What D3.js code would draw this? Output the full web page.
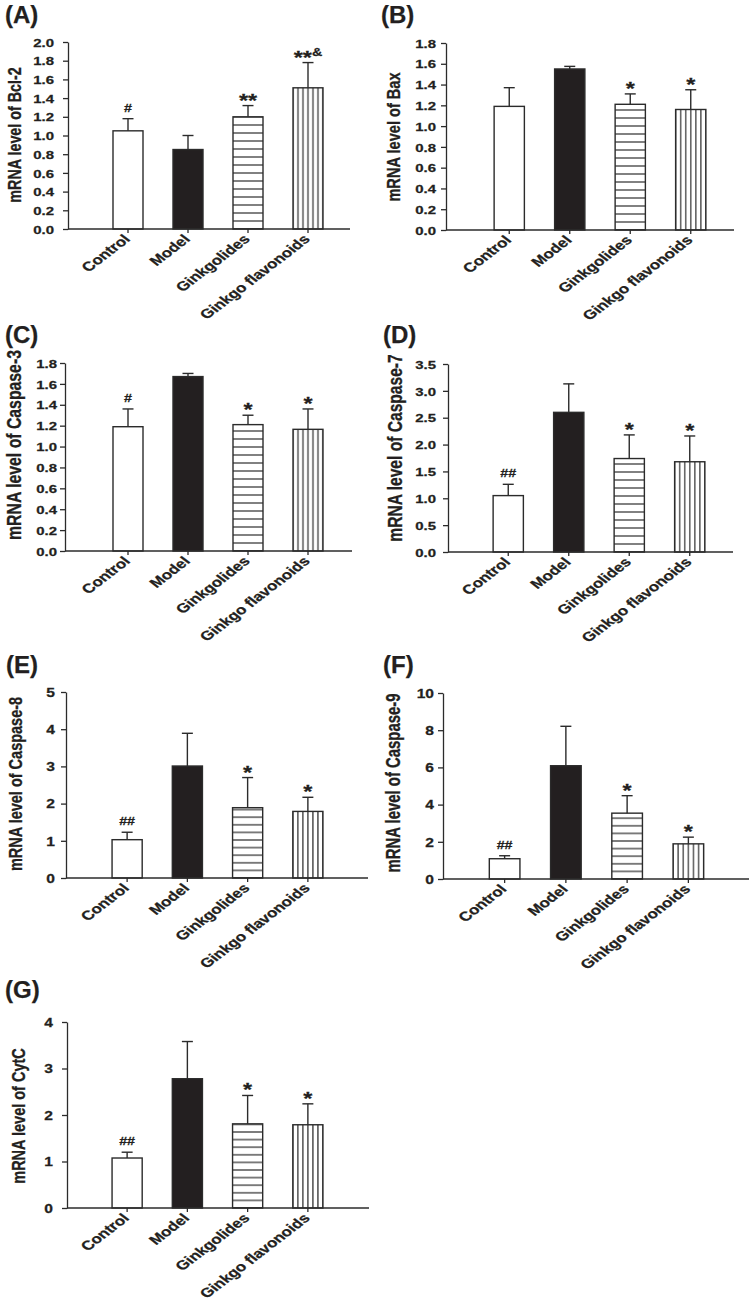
<!DOCTYPE html>
<html><head><meta charset="utf-8">
<script src="https://cdn.jsdelivr.net/npm/d3@7"></script>
<style>body{margin:0;background:#fff} svg{display:block}</style>
</head><body><svg id="c" width="752" height="1306"></svg>
<script>
// ---------- data ----------
const categories = ["Control", "Model", "Ginkgolides", "Ginkgo flavonoids"];

const bcl2Mean = [1.05, 0.85, 1.20, 1.51];
const bcl2Err  = [0.13, 0.15, 0.12, 0.27];
const bcl2Ticks = [0, 0.2, 0.4, 0.6, 0.8, 1.0, 1.2, 1.4, 1.6, 1.8, 2.0];
const bcl2Marks = ["#", "", "**", "**&"];

const baxMean = [1.19, 1.55, 1.21, 1.16];
const baxErr  = [0.18, 0.025, 0.10, 0.19];
const baxTicks = [0, 0.2, 0.4, 0.6, 0.8, 1.0, 1.2, 1.4, 1.6, 1.8];
const baxMarks = ["", "", "*", "*"];

const casp3Mean = [1.19, 1.67, 1.21, 1.165];
const casp3Err  = [0.17, 0.03, 0.09, 0.195];
const casp3Ticks = [0, 0.2, 0.4, 0.6, 0.8, 1.0, 1.2, 1.4, 1.6, 1.8];
const casp3Marks = ["#", "", "*", "*"];

const casp7Mean = [1.05, 2.60, 1.74, 1.68];
const casp7Err  = [0.21, 0.53, 0.44, 0.48];
const casp7Ticks = [0, 0.5, 1.0, 1.5, 2.0, 2.5, 3.0, 3.5];
const casp7Marks = ["##", "", "*", "*"];

const casp8Mean = [1.03, 3.01, 1.89, 1.79];
const casp8Err  = [0.20, 0.88, 0.81, 0.38];
const casp8Ticks = [0, 1, 2, 3, 4, 5];
const casp8Marks = ["##", "", "*", "*"];

const casp9Mean = [1.09, 6.09, 3.54, 1.89];
const casp9Err  = [0.16, 2.12, 0.94, 0.36];
const casp9Ticks = [0, 2, 4, 6, 8, 10];
const casp9Marks = ["##", "", "*", "*"];

const cytcMean = [1.075, 2.78, 1.81, 1.79];
const cytcErr  = [0.125, 0.80, 0.61, 0.45];
const cytcTicks = [0, 1, 2, 3, 4];
const cytcMarks = ["##", "", "*", "*"];

const panels = [
  {tag: "(A)", title: "mRNA level of Bcl-2",     mean: bcl2Mean,  err: bcl2Err,  ticks: bcl2Ticks,  fmt: ".1f", marks: bcl2Marks},
  {tag: "(B)", title: "mRNA level of Bax",       mean: baxMean,   err: baxErr,   ticks: baxTicks,   fmt: ".1f", marks: baxMarks},
  {tag: "(C)", title: "mRNA level of Caspase-3", mean: casp3Mean, err: casp3Err, ticks: casp3Ticks, fmt: ".1f", marks: casp3Marks},
  {tag: "(D)", title: "mRNA level of Caspase-7", mean: casp7Mean, err: casp7Err, ticks: casp7Ticks, fmt: ".1f", marks: casp7Marks},
  {tag: "(E)", title: "mRNA level of Caspase-8", mean: casp8Mean, err: casp8Err, ticks: casp8Ticks, fmt: "d",   marks: casp8Marks},
  {tag: "(F)", title: "mRNA level of Caspase-9", mean: casp9Mean, err: casp9Err, ticks: casp9Ticks, fmt: "d",   marks: casp9Marks},
  {tag: "(G)", title: "mRNA level of CytC",      mean: cytcMean,  err: cytcErr,  ticks: cytcTicks,  fmt: "d",   marks: cytcMarks}
];

// ---------- layout / style ----------
const layout = [
  {lx: 5,   ly: 23,   x0: 68,  x1: 350, yTop: 42,   yBot: 229,  band: [98, 338],  tx: 14,  ty: 135,  tfs: 14.3, gap: 14, fs: 11.5, stripe: 8},
  {lx: 381, ly: 23,   x0: 446, x1: 734, yTop: 43,   yBot: 230,  band: [479, 721], tx: 393, ty: 137,  tfs: 14.6, gap: 10, fs: 11.5, stripe: 8},
  {lx: 5,   ly: 343,  x0: 65,  x1: 352, yTop: 363,  yBot: 551,  band: [98, 338],  tx: 14,  ty: 445,  tfs: 15.8, gap: 8,  fs: 11.5, stripe: 8},
  {lx: 383, ly: 343,  x0: 448, x1: 733, yTop: 364,  yBot: 552,  band: [478, 720], tx: 395, ty: 448,  tfs: 15.6, gap: 12, fs: 11.5, stripe: 8},
  {lx: 6,   ly: 673,  x0: 66,  x1: 368, yTop: 692,  yBot: 878,  band: [97, 338],  tx: 15,  ty: 784,  tfs: 14.5, gap: 11, fs: 12,   stripe: 7.6},
  {lx: 383, ly: 673,  x0: 443, x1: 749, yTop: 693,  yBot: 879,  band: [474, 719], tx: 393, ty: 783,  tfs: 14.9, gap: 9,  fs: 12,   stripe: 7.6},
  {lx: 5,   ly: 998,  x0: 67,  x1: 369, yTop: 1022, yBot: 1208, band: [97, 338],  tx: 18,  ty: 1116, tfs: 14.5, gap: 14, fs: 12,   stripe: 7.6}
];
const SX = 1.3;                 // horizontal stretch of the original figure's text
const INK = "#231f20";
const LINE = "#2b2b2b";
const FONT = "'Liberation Sans', Arial, Helvetica, sans-serif";
const HALO = 0.25;              // slight stroke to mimic the heavier print

const svg = d3.select("#c");
const defs = svg.append("defs");

function txt(sel) {
  return sel.attr("font-family", FONT).attr("font-weight", "bold").attr("fill", INK)
    .attr("stroke", INK).attr("stroke-width", HALO);
}

panels.forEach((p, i) => {
  const L = layout[i];
  const g = svg.append("g");
  const y = d3.scaleLinear().domain([0, d3.max(p.ticks)]).range([L.yBot, L.yTop]);
  const x = d3.scaleBand().domain(categories).range(L.band).paddingInner(0.5).paddingOuter(0.25);
  const bw = x.bandwidth();

  // patterns
  const hp = defs.append("pattern").attr("id", "hp" + i).attr("patternUnits", "userSpaceOnUse")
    .attr("x", 0).attr("y", L.yBot + L.stripe / 2).attr("width", 20).attr("height", L.stripe);
  hp.append("rect").attr("width", 20).attr("height", L.stripe).attr("fill", "#fff");
  hp.append("line").attr("x1", 0).attr("x2", 20).attr("y1", L.stripe / 2).attr("y2", L.stripe / 2)
    .attr("stroke", LINE).attr("stroke-width", 1.2);
  const vw = bw / 6;
  const vp = defs.append("pattern").attr("id", "vp" + i).attr("patternUnits", "userSpaceOnUse")
    .attr("x", x(categories[3]) - vw / 2).attr("y", 0).attr("width", vw).attr("height", 1400);
  vp.append("rect").attr("width", vw).attr("height", 1400).attr("fill", "#fff");
  vp.append("line").attr("x1", vw / 2).attr("x2", vw / 2).attr("y1", 0).attr("y2", 1400)
    .attr("stroke", LINE).attr("stroke-width", 1.2);
  const fills = ["#fff", INK, `url(#hp${i})`, `url(#vp${i})`];

  // panel tag
  txt(g.append("text").attr("x", L.lx).attr("y", L.ly).text(p.tag)).attr("font-size", 24);

  // bars
  g.selectAll("rect.bar").data(p.mean).join("rect").attr("class", "bar")
    .attr("x", (d, k) => x(categories[k])).attr("width", bw)
    .attr("y", d => y(d)).attr("height", d => y(0) - y(d))
    .attr("fill", (d, k) => fills[k]).attr("stroke", LINE).attr("stroke-width", 1.4);

  // error bars (upper only)
  p.mean.forEach((m, k) => {
    const cx = x(categories[k]) + bw / 2;
    const top = y(m + p.err[k]);
    g.append("line").attr("x1", cx).attr("x2", cx).attr("y1", y(m)).attr("y2", top)
      .attr("stroke", LINE).attr("stroke-width", 1.4);
    g.append("line").attr("x1", cx - 5.5).attr("x2", cx + 5.5).attr("y1", top).attr("y2", top)
      .attr("stroke", LINE).attr("stroke-width", 1.4);

    // significance marks
    const mk = p.marks[k];
    if (mk) {
      const segs = [];
      for (const ch of mk) {
        const last = segs[segs.length - 1];
        if (last && last.c === ch) last.t += ch; else segs.push({c: ch, t: ch});
      }
      const t = txt(g.append("text").attr("text-anchor", "middle")
        .attr("transform", `translate(${cx},${top + 1}) scale(${SX},1)`));
      let prev = 0;
      segs.forEach(s => {
        const shift = s.c === "*" ? 0 : -8;
        const fsz = s.c === "*" ? 18 : 11;
        t.append("tspan").attr("dy", shift - prev).attr("font-size", fsz).text(s.t);
        prev = shift;
      });
    }
  });

  // y axis
  const ya = d3.axisLeft(y).tickValues(p.ticks).tickFormat(d3.format(p.fmt)).tickSize(5).tickSizeOuter(0);
  const yg = g.append("g").attr("transform", `translate(${L.x0},0)`).call(ya);
  yg.select(".domain").attr("stroke", LINE).attr("stroke-width", 1.3);
  yg.selectAll(".tick line").attr("stroke", LINE).attr("stroke-width", 1.3);
  txt(yg.selectAll(".tick text").attr("x", null).attr("dy", "0.36em")
    .attr("transform", `translate(${-L.gap},0) scale(${SX},1)`))
    .attr("font-size", L.fs);

  // x axis line
  g.append("line").attr("x1", L.x0).attr("x2", L.x1).attr("y1", L.yBot).attr("y2", L.yBot)
    .attr("stroke", LINE).attr("stroke-width", 1.3);
  const xa = d3.axisBottom(x).tickSize(4).tickFormat("");
  const xg = g.append("g").attr("transform", `translate(0,${L.yBot})`).call(xa);
  xg.select(".domain").remove();
  xg.selectAll(".tick line").attr("stroke", LINE).attr("stroke-width", 1.3);

  // category labels
  txt(g.selectAll("text.cat").data(categories).join("text").attr("class", "cat")
    .attr("text-anchor", "end")
    .attr("transform", d => `translate(${x(d) + bw / 2 + 3},${L.yBot + 11}) scale(${SX},1) rotate(-45)`))
    .attr("font-size", 13)
    .text(d => d);

  // y title
  txt(g.append("text").attr("text-anchor", "middle").attr("dy", "0.36em")
    .attr("transform", `translate(${L.tx},${L.ty}) scale(${SX},1) rotate(-90)`))
    .attr("font-size", L.tfs)
    .text(p.title);
});
</script></body></html>
